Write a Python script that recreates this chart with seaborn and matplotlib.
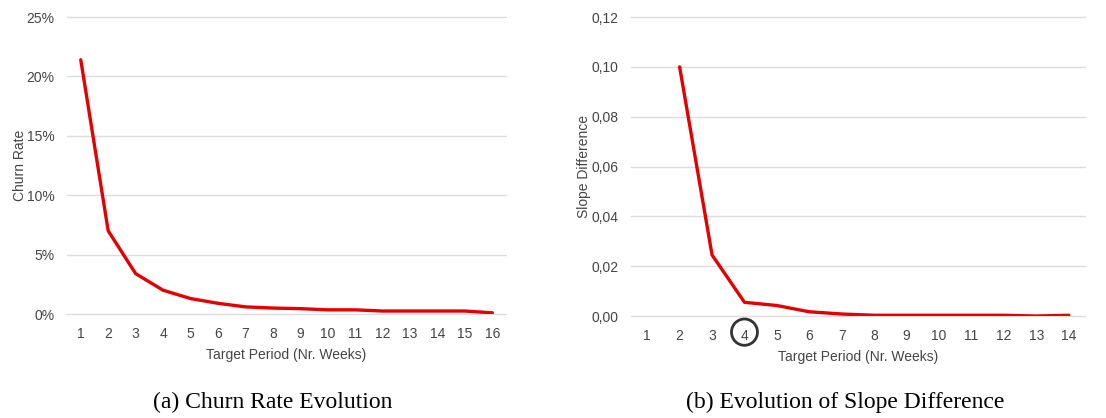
import matplotlib
matplotlib.use('Agg')
import matplotlib.pyplot as plt
from matplotlib.ticker import FuncFormatter
from matplotlib.patches import Ellipse
import pandas as pd
import numpy as np
import seaborn as sns

# Data
weeks_a = list(range(1, 17))
churn_rate = [0.214, 0.070, 0.034, 0.020, 0.013, 0.009, 0.006, 0.005,
              0.0045, 0.0035, 0.0035, 0.0025, 0.0025, 0.0025, 0.0025, 0.001]

weeks_b = list(range(1, 15))
slope_diff = [np.nan, 0.100, 0.0245, 0.0055, 0.0042, 0.0017, 0.0008, 0.0003,
              0.0003, 0.0003, 0.0003, 0.0003, 0.0, 0.0003]

highlight_week = 4

caption_a = "(a) Churn Rate Evolution"
caption_b = "(b) Evolution of Slope Difference"

sns.set_style("white")
plt.rcParams['font.family'] = ['Liberation Sans', 'DejaVu Sans']

text_col = '#444444'
line_col = '#e30000'
grid_col = '#dcdcdc'

df_a = pd.DataFrame({'week': weeks_a, 'churn': churn_rate})
df_b = pd.DataFrame({'week': weeks_b, 'slope': slope_diff})

fig = plt.figure(figsize=(11.06, 4.18), dpi=100)
ax1 = fig.add_axes([0.0606, 0.2488, 0.397, 0.7105])
ax2 = fig.add_axes([0.5705, 0.2440, 0.4105, 0.7153])


def style_axis(ax, n, ylabel):
    ax.set_xlim(0.5, n + 0.5)
    ax.set_xticks(range(1, n + 1))
    ax.grid(axis='y', color=grid_col, linewidth=1.0)
    ax.grid(axis='x', visible=False)
    ax.set_axisbelow(True)
    for s in ax.spines.values():
        s.set_visible(False)
    ax.tick_params(axis='both', length=0, labelsize=10, labelcolor=text_col)
    ax.tick_params(axis='y', pad=9)
    ax.tick_params(axis='x', pad=9.5)
    ax.set_xlabel('Target Period (Nr. Weeks)', fontsize=10, color=text_col, labelpad=5)
    ax.set_ylabel(ylabel, fontsize=10, color=text_col, labelpad=0)


# (a) churn rate
sns.lineplot(data=df_a, x='week', y='churn', ax=ax1, color=line_col, linewidth=2.4)
style_axis(ax1, 16, 'Churn Rate')
ax1.set_ylim(0, 0.25)
ax1.set_yticks(np.arange(0, 0.2501, 0.05))
ax1.yaxis.set_major_formatter(FuncFormatter(lambda v, p: f"{v * 100:.0f}%"))

# (b) slope difference
sns.lineplot(data=df_b, x='week', y='slope', ax=ax2, color=line_col, linewidth=2.4)
style_axis(ax2, 14, 'Slope Difference')
ax2.set_ylim(0, 0.12)
ax2.set_yticks(np.arange(0, 0.1201, 0.02))
ax2.yaxis.set_major_formatter(FuncFormatter(lambda v, p: f"{v:.2f}".replace('.', ',')))

# keep the zero gridline fully visible
for ax in (ax1, ax2):
    for gl in ax.get_ygridlines():
        gl.set_clip_on(False)

# circle around the chosen tick label
trans = ax2.get_xaxis_transform()
circ = Ellipse((highlight_week, -0.054), width=0.8, height=0.088,
               transform=trans, fill=False, edgecolor='#333333',
               linewidth=2.0, clip_on=False)
ax2.add_patch(circ)

# captions
fig.text(0.2468, 0.038, caption_a, ha='center', va='center',
         fontsize=17, family=['Liberation Serif', 'DejaVu Serif'], color='black')
fig.text(0.764, 0.038, caption_b, ha='center', va='center',
         fontsize=17, family=['Liberation Serif', 'DejaVu Serif'], color='black')

fig.savefig('out.png', dpi=100)
